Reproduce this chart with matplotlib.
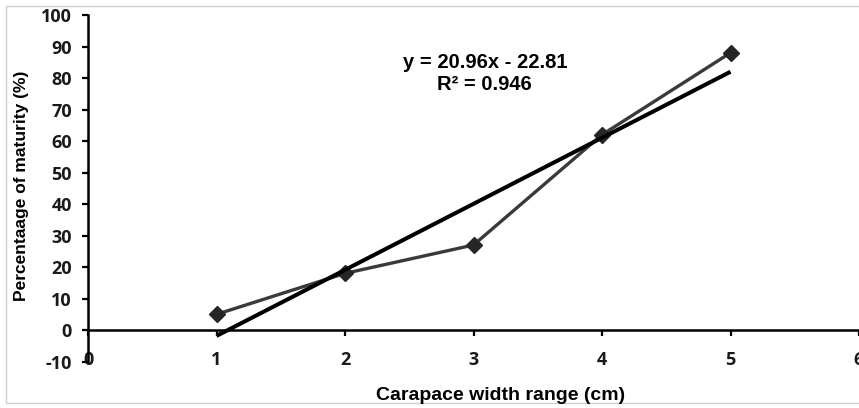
import matplotlib
matplotlib.use("Agg")
import matplotlib.pyplot as plt
from matplotlib.patches import Rectangle

# Data
width_range = [1, 2, 3, 4, 5]
maturity_pct = [5, 18, 27, 62, 88]
slope = 20.96
intercept = -22.81
r_squared = 0.946
x_ticks = [0, 1, 2, 3, 4, 5, 6]
y_ticks = [-10, 0, 10, 20, 30, 40, 50, 60, 70, 80, 90, 100]

W, H = 859, 408
fig = plt.figure(figsize=(W / 100, H / 100), dpi=100)
fig.patch.set_facecolor("white")

# light frame around the chart area
fig.add_artist(Rectangle((6 / W, 5 / H), 1.2, (403 - 6) / H, transform=fig.transFigure,
                         fill=False, edgecolor="#d0d0d0", linewidth=1.0))

ax = fig.add_axes([88 / W, (H - 361.6) / H, (859 - 88) / W, (361.6 - 15) / H])
ax.set_xlim(0, 6)
ax.set_ylim(-10, 100)

trend_y = [slope * x + intercept for x in width_range]
ax.plot(width_range, maturity_pct, color="#3a3a3a", linewidth=2.4, marker="D",
        markersize=8, markerfacecolor="#262626", markeredgecolor="#262626", zorder=3)
ax.plot([width_range[0], width_range[-1]], [trend_y[0], trend_y[-1]],
        color="black", linewidth=2.9, zorder=4, solid_capstyle="butt")

for s in ["top", "right"]:
    ax.spines[s].set_visible(False)
ax.spines["bottom"].set_position(("data", 0))
ax.spines["left"].set_linewidth(1.8)
ax.spines["bottom"].set_linewidth(1.8)

tick_font = dict(family="Open Sans", weight="bold", size=13)
ax.set_xticks(x_ticks)
ax.set_yticks(y_ticks)
ax.set_xticklabels([str(v) for v in x_ticks], **tick_font, color="#1a1a1a")
ax.set_yticklabels([str(v) for v in y_ticks], **tick_font, color="#1a1a1a")
ax.tick_params(axis="x", direction="out", length=4.5, width=1.6, pad=10.5)
ax.tick_params(axis="y", direction="out", length=4.5, width=1.6, pad=7)

fig.text(501 / W, 1 - 395 / H, "Carapace width range (cm)", ha="center", va="center",
         family="Liberation Sans", weight="bold", size=14)
fig.text(22 / W, 1 - 186 / H, "Percentaage of maturity (%)", ha="center", va="center",
         rotation=90, family="Liberation Sans", weight="bold", size=12.5)

fig.text(485 / W, 1 - 62 / H, f"y = {slope:.2f}x - {abs(intercept):.2f}", ha="center",
         va="center", family="Liberation Sans", weight="bold", size=14.5)
fig.text(484 / W, 1 - 84 / H, f"R² = {r_squared:.3f}", ha="center", va="center",
         family="Liberation Sans", weight="bold", size=14.5)

fig.savefig("out.png", dpi=100, facecolor="white")
